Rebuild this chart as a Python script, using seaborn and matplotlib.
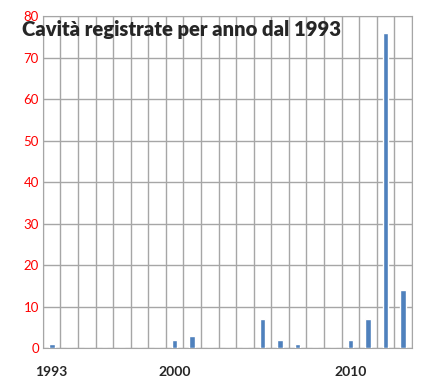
import matplotlib
matplotlib.use("Agg")
import matplotlib.pyplot as plt
import seaborn as sns
import pandas as pd

years = list(range(1993, 2014))
counts = [1, 0, 0, 0, 0, 0, 0, 2, 3, 0, 0, 0, 7, 2, 1, 0, 0, 2, 7, 76, 14]
shown_years = {1993: "1993", 2000: "2000", 2010: "2010"}
title = "Cavità registrate per anno dal 1993"

df = pd.DataFrame({"anno": [str(y) for y in years], "cavita": counts})

sns.set_style("white")
plt.rcParams["font.family"] = ["Lato", "DejaVu Sans"]

fig = plt.figure(figsize=(4.25, 3.85), dpi=100)
ax = fig.add_axes([0.101, 0.096, 0.868, 0.862])

sns.barplot(data=df, x="anno", y="cavita", color="#4F81BD", width=0.32,
            saturation=1, ax=ax, zorder=3)

ax.set_xlim(-0.5, len(years) - 0.5)
ax.set_ylim(0, 80)
ax.set_yticks(range(0, 81, 10))
ax.tick_params(axis="y", colors="red", labelsize=9.5, length=0, pad=3)

pos = [years.index(y) for y in shown_years]
ax.set_xticks(pos)
ax.set_xticklabels(list(shown_years.values()), fontweight="bold", fontsize=10)
ax.set_xticks([i + 0.5 for i in range(-1, len(years))], minor=True)
ax.tick_params(axis="x", which="both", length=0, pad=13)

ax.grid(axis="y", color="#a6a6a6", lw=1, zorder=0)
ax.grid(axis="x", which="minor", color="#a6a6a6", lw=1, zorder=0)
ax.grid(axis="x", which="major", visible=False)
for s in ax.spines.values():
    s.set_color("#a6a6a6")
ax.set_xlabel("")
ax.set_ylabel("")

fig.text(22 / 425, 0.906, title, fontsize=14.6, fontweight="heavy",
         va="baseline", ha="left")

fig.savefig("out.png", dpi=100)
